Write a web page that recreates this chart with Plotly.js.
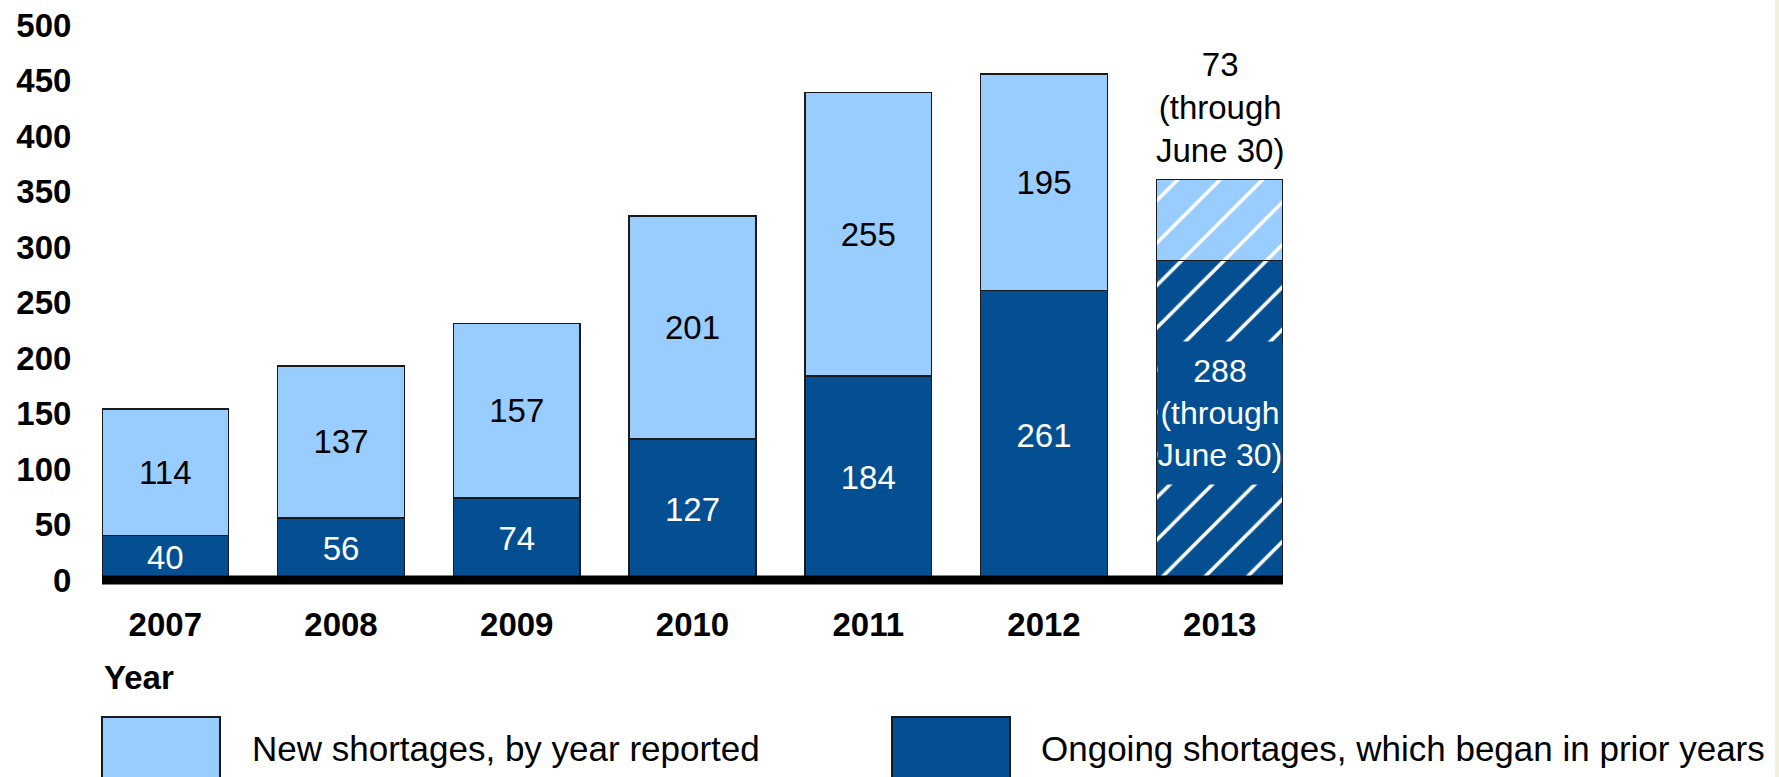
<!DOCTYPE html>
<html>
<head>
<meta charset="utf-8">
<script src="https://cdn.plot.ly/plotly-3.0.1.min.js"></script>
<style>
  html, body { margin: 0; padding: 0; background: #ffffff; }
  #chart { width: 1779px; height: 777px; }
</style>
</head>
<body>
<div id="chart"></div>
<script>
// ---- Data ----
const years = ['2007', '2008', '2009', '2010', '2011', '2012', '2013'];
const ongoingShortages = [40, 56, 74, 127, 184, 261, 288];
const newShortages = [114, 137, 157, 201, 255, 195, 73];
const partialYear = [false, false, false, false, false, false, true];
const partialNote = '(through<br>June 30)';
const yTicks = [0, 50, 100, 150, 200, 250, 300, 350, 400, 450, 500];
const seriesNames = ['New shortages, by year reported', 'Ongoing shortages, which began in prior years'];

// ---- Styles ----
const LIGHT = '#99CCFF';
const DARK = '#034F91';
const FONT = '"Liberation Sans", Arial, Helvetica, sans-serif';
const VAL_SIZE = 33;

const hatchShapes = partialYear.map(p => p ? '/' : '');
const fullYearText = (vals) => vals.map((v, i) => partialYear[i] ? '' : String(v));

const traceOngoing = {
  type: 'bar',
  name: seriesNames[1],
  x: years,
  y: ongoingShortages,
  text: fullYearText(ongoingShortages),
  textposition: 'inside',
  insidetextanchor: 'middle',
  textangle: 0,
  textfont: { family: FONT, size: VAL_SIZE, color: '#ffffff' },
  marker: {
    color: DARK,
    line: { color: '#1a1a1a', width: 1.5 },
    pattern: { shape: hatchShapes, fgcolor: '#ffffff', bgcolor: DARK, size: 30, solidity: 0.12 }
  },
  hoverinfo: 'x+y',
  showlegend: false
};

const traceNew = {
  type: 'bar',
  name: seriesNames[0],
  x: years,
  y: newShortages,
  text: fullYearText(newShortages),
  textposition: 'inside',
  insidetextanchor: 'middle',
  textangle: 0,
  textfont: { family: FONT, size: VAL_SIZE, color: '#000000' },
  marker: {
    color: LIGHT,
    line: { color: '#1a1a1a', width: 1.5 },
    pattern: { shape: hatchShapes, fgcolor: '#ffffff', bgcolor: LIGHT, size: 30, solidity: 0.12 }
  },
  hoverinfo: 'x+y',
  showlegend: false
};

// ---- Geometry helpers (pixel -> paper) ----
const PL = 102, PR = 1283, PT = 25, PB = 580;
const px2x = (px) => (px - PL) / (PR - PL);
const px2y = (py) => (PB - py) / (PB - PT);

const annotations = [];
partialYear.forEach((p, i) => {
  if (!p) return;
  const total = ongoingShortages[i] + newShortages[i];
  annotations.push({
    x: i, y: total, xref: 'x', yref: 'y',
    text: newShortages[i] + '<br>' + partialNote,
    showarrow: false, xanchor: 'center', yanchor: 'bottom', yshift: 8,
    font: { family: FONT, size: VAL_SIZE, color: '#000000' },
    align: 'center'
  });
  annotations.push({
    x: i, y: ongoingShortages[i] / 2, xref: 'x', yref: 'y',
    text: ongoingShortages[i] + '<br>' + partialNote,
    showarrow: false, xanchor: 'center', yanchor: 'middle', yshift: 7,
    font: { family: FONT, size: 32, color: '#ffffff' },
    align: 'center', valign: 'middle', bgcolor: DARK, width: 124, height: 142, borderpad: 0
  });
});

// "Year" label
annotations.push({
  x: px2x(102), y: px2y(677), xref: 'paper', yref: 'paper',
  text: '<b>Year</b>', showarrow: false, xanchor: 'left', yanchor: 'middle',
  font: { family: FONT, size: 33, color: '#000000' }
});
// Legend labels
annotations.push({
  x: px2x(250), y: px2y(748), xref: 'paper', yref: 'paper',
  text: seriesNames[0], showarrow: false, xanchor: 'left', yanchor: 'middle',
  font: { family: FONT, size: 35, color: '#000000' }
});
annotations.push({
  x: px2x(1039), y: px2y(748), xref: 'paper', yref: 'paper',
  text: seriesNames[1], showarrow: false, xanchor: 'left', yanchor: 'middle',
  font: { family: FONT, size: 35, color: '#000000' }
});

const shapes = [
  // thick baseline
  { type: 'line', xref: 'paper', yref: 'paper', x0: 0, x1: 1, y0: 0, y1: 0,
    line: { color: '#000000', width: 9 }, layer: 'above' },
  // legend swatches
  { type: 'rect', xref: 'paper', yref: 'paper', x0: px2x(102), x1: px2x(220), y0: px2y(717), y1: px2y(795),
    fillcolor: LIGHT, line: { color: '#1a1a1a', width: 2 } },
  { type: 'rect', xref: 'paper', yref: 'paper', x0: px2x(892), x1: px2x(1010), y0: px2y(717), y1: px2y(795),
    fillcolor: DARK, line: { color: '#1a1a1a', width: 2 } },
  // faint page edge strip
  { type: 'rect', xref: 'paper', yref: 'paper', x0: px2x(1775), x1: px2x(1782), y0: px2y(-5), y1: px2y(790),
    fillcolor: '#F1EFDF', line: { width: 0 } }
];

const layout = {
  width: 1779, height: 777,
  margin: { l: PL, r: 1779 - PR, t: PT, b: 777 - PB, pad: 0 },
  paper_bgcolor: '#ffffff', plot_bgcolor: '#ffffff',
  barmode: 'stack',
  bargap: 0.28,
  showlegend: false,
  font: { family: FONT, color: '#000000' },
  xaxis: {
    type: 'category',
    range: [-0.36, 6.36],
    showgrid: false, zeroline: false, showline: false,
    ticks: 'outside', ticklen: 15, tickcolor: 'rgba(0,0,0,0)',
    tickfont: { family: FONT, size: 33, color: '#000000', weight: 'bold' },
    fixedrange: true
  },
  yaxis: {
    range: [0, 500],
    tickvals: yTicks,
    ticktext: yTicks.map(String),
    showgrid: false, zeroline: false, showline: false,
    ticks: 'outside', ticklen: 23, tickcolor: 'rgba(0,0,0,0)',
    tickfont: { family: FONT, size: 33, color: '#000000', weight: 'bold' },
    fixedrange: true
  },
  annotations: annotations,
  shapes: shapes
};

try {
  Plotly.newPlot('chart', [traceOngoing, traceNew], layout, { displayModeBar: false, staticPlot: true })
    .catch(e => { document.body.insertAdjacentText('beforeend', 'ERR ' + e); });
} catch (e) {
  document.body.insertAdjacentText('beforeend', 'ERR ' + e);
}
</script>
</body>
</html>
